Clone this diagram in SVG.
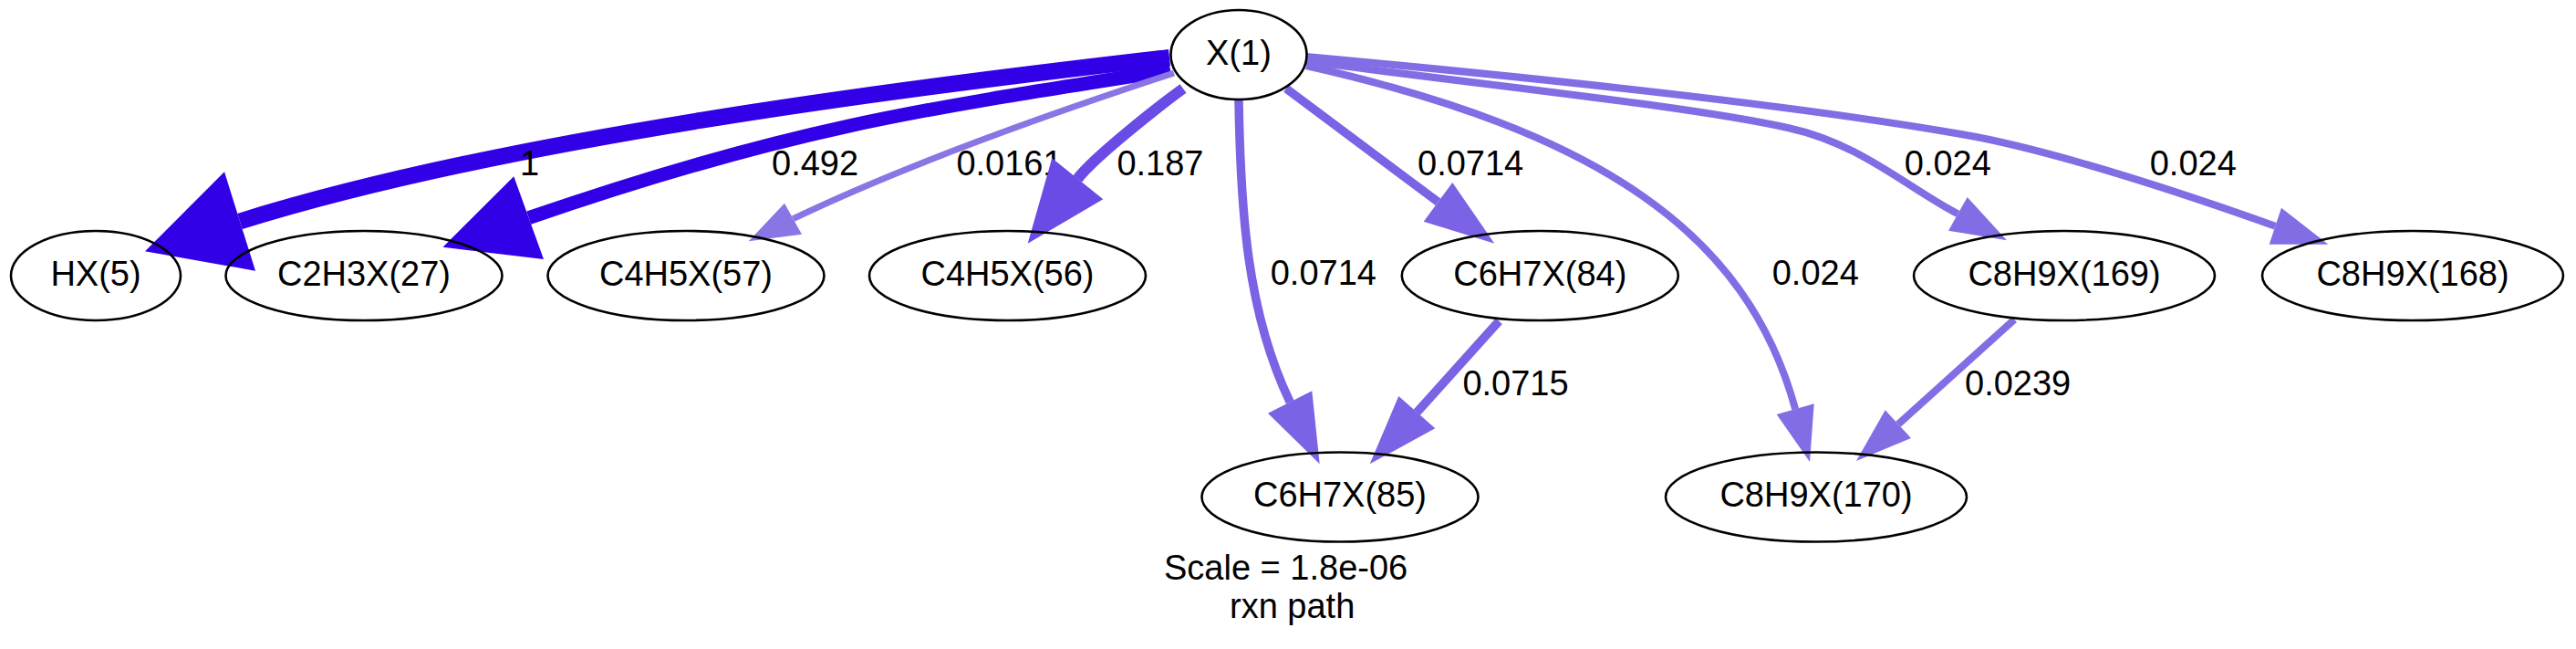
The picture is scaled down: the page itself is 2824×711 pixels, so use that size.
<svg xmlns="http://www.w3.org/2000/svg" width="2824" height="711" viewBox="0 0 2824 711">
<style>
text{font-family:"Liberation Sans",Arial,Helvetica,sans-serif;font-size:38px;fill:#000}
.n ellipse{fill:none;stroke:#000;stroke-width:2.6}
.n text{text-anchor:middle}
.e path{fill:none;stroke-linecap:butt}
.c1 path{stroke:#3100e6}.c1 polygon{fill:#3100e6}
.c2 path{stroke:#6a4be5}.c2 polygon{fill:#6a4be5}
.c3 path{stroke:#7c62e4}.c3 polygon{fill:#7c62e4}
.c4 path{stroke:#836de4}.c4 polygon{fill:#836de4}
.c5 path{stroke:#8a75e4}.c5 polygon{fill:#8a75e4}
</style>
<rect width="2824" height="711" fill="#fff"/>
<g id="connectors">
 <g id="e_X_HX5" class="e c1">
  <path d="M1282,63 C984,97 549,153 263,242.5" stroke-width="18"/>
  <polygon points="159,275.3 246,188.3 280,296.7"/>
  <text x="570" y="192">1</text>
 </g>
 <g id="e_X_C2H3X27" class="e c1">
  <path d="M1283,77 C1006,120 863,141 579.7,238.7" stroke-width="15"/>
  <polygon points="485.5,270.7 563.3,193.3 596,284"/>
  <text x="846" y="192">0.492</text>
 </g>
 <g id="e_X_C4H5X57" class="e c5">
  <path d="M1287,80 C1180,115 1000,177 869.5,239.7" stroke-width="7"/>
  <polygon points="820.7,264.3 860,222.7 879,256.7"/>
  <text x="1048.4" y="192">0.0161</text>
 </g>
 <g id="e_X_C4H5X56" class="e c2">
  <path d="M1297,97 C1268.7,117.6 1199.3,172.2 1181.3,195.8" stroke-width="12"/>
  <polygon points="1126.7,266.7 1153.3,173.3 1209.3,218.3"/>
  <text x="1224.4" y="192">0.187</text>
 </g>
 <g id="e_X_C6H7X85" class="e c3">
  <path d="M1358,110 C1360,230 1366.7,341.3 1414.2,440.5" stroke-width="9.5"/>
  <polygon points="1446.7,508.3 1390,452.7 1438.3,428.3"/>
  <text x="1392.7" y="311.7">0.0714</text>
 </g>
 <g id="e_X_C6H7X84" class="e c3">
  <path d="M1410,97 L1576.5,221.3" stroke-width="9.5"/>
  <polygon points="1638.3,266.7 1592.3,200 1560.7,242.7"/>
  <text x="1554" y="192">0.0714</text>
 </g>
 <g id="e_C6H7X84_C6H7X85" class="e c3">
  <path d="M1643.3,351.7 L1553.3,451.7" stroke-width="9.5"/>
  <polygon points="1501.7,508.3 1533.3,434 1573.3,469.3"/>
  <text x="1603.4" y="432.7">0.0715</text>
 </g>
 <g id="e_X_C8H9X170" class="e c4">
  <path d="M1432,72 C1754,144.6 1915.4,255.2 1968.2,448.2" stroke-width="8"/>
  <polygon points="1984,506 1947.7,454 1988.7,442.3"/>
  <text x="1942.7" y="311.7">0.024</text>
 </g>
 <g id="e_X_C8H9X169" class="e c4">
  <path d="M1432,67 C1650,96 1850,116 1960,140 C2040,157.5 2090,205 2146.3,234.3" stroke-width="8"/>
  <polygon points="2200,263.3 2156.7,216 2136,252.7"/>
  <text x="2087.7" y="192">0.024</text>
 </g>
 <g id="e_X_C8H9X168" class="e c4">
  <path d="M1432,62 C1650,82 1950,112 2150,147 C2250,164 2400,214 2494.3,247.7" stroke-width="8"/>
  <polygon points="2552.3,267.7 2501,227.7 2487.7,267.7"/>
  <text x="2356.7" y="192">0.024</text>
 </g>
 <g id="e_C8H9X169_C8H9X170" class="e c4">
  <path d="M2208.3,350 L2081,464.7" stroke-width="8"/>
  <polygon points="2035,505 2066.7,449.3 2095,480"/>
  <text x="2154" y="432.7">0.0239</text>
 </g>
</g>
<g id="n_X1" class="n"><ellipse cx="1358" cy="60" rx="74.5" ry="49"/><text x="1358" y="71">X(1)</text></g>
<g id="n_HX5" class="n"><ellipse cx="105" cy="302" rx="93" ry="49"/><text x="105" y="313">HX(5)</text></g>
<g id="n_C2H3X27" class="n"><ellipse cx="399" cy="302" rx="151.5" ry="49"/><text x="399" y="313">C2H3X(27)</text></g>
<g id="n_C4H5X57" class="n"><ellipse cx="752" cy="302" rx="151.5" ry="49"/><text x="752" y="313">C4H5X(57)</text></g>
<g id="n_C4H5X56" class="n"><ellipse cx="1104.5" cy="302" rx="151.5" ry="49"/><text x="1104.5" y="313">C4H5X(56)</text></g>
<g id="n_C6H7X84" class="n"><ellipse cx="1688.3" cy="302" rx="151.5" ry="49"/><text x="1688.3" y="313">C6H7X(84)</text></g>
<g id="n_C8H9X169" class="n"><ellipse cx="2263" cy="302" rx="165" ry="49"/><text x="2263" y="313">C8H9X(169)</text></g>
<g id="n_C8H9X168" class="n"><ellipse cx="2645" cy="302" rx="165" ry="49"/><text x="2645" y="313">C8H9X(168)</text></g>
<g id="n_C6H7X85" class="n"><ellipse cx="1469" cy="544.5" rx="151.5" ry="49"/><text x="1469" y="555">C6H7X(85)</text></g>
<g id="n_C8H9X170" class="n"><ellipse cx="1991" cy="544.5" rx="165" ry="49"/><text x="1991" y="555">C8H9X(170)</text></g>
<g id="graph_label">
 <text x="1276" y="635">Scale = 1.8e-06</text>
 <text x="1348" y="676.7">rxn path</text>
</g>
</svg>
